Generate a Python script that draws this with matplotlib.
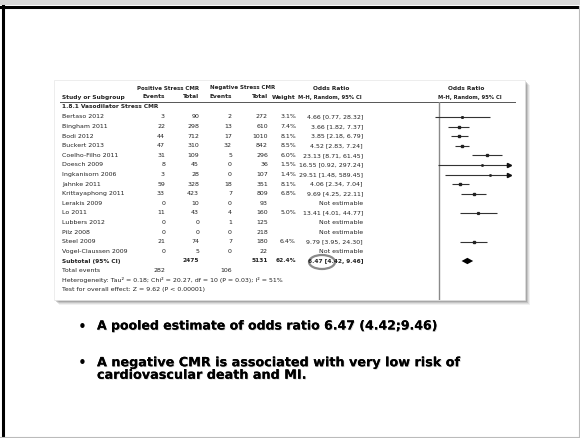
import matplotlib.pyplot as plt
import matplotlib.patheffects as pe
from matplotlib.patches import Rectangle, Ellipse, Polygon
import numpy as np

# Studies in the vasodilator stress CMR subgroup
studies = ['Bertaso 2012', 'Bingham 2011', 'Bodi 2012', 'Buckert 2013',
           'Coelho-Filho 2011', 'Doesch 2009', 'Ingkanisorn 2006', 'Jahnke 2011',
           'Krittayaphong 2011', 'Lerakis 2009', 'Lo 2011', 'Lubbers 2012',
           'Pilz 2008', 'Steel 2009', 'Vogel-Claussen 2009']
pos_events = [3, 22, 44, 47, 31, 8, 3, 59, 33, 0, 11, 0, 0, 21, 0]
pos_total = [90, 298, 712, 310, 109, 45, 28, 328, 423, 10, 43, 0, 0, 74, 5]
neg_events = [2, 13, 17, 32, 5, 0, 0, 18, 7, 0, 4, 1, 0, 7, 0]
neg_total = [272, 610, 1010, 842, 296, 36, 107, 351, 809, 93, 160, 125, 218, 180, 22]
weight = [3.1, 7.4, 8.1, 8.5, 6.0, 1.5, 1.4, 8.1, 6.8, None, 5.0, None, None, 6.4, None]
odds = [4.66, 3.66, 3.85, 4.52, 23.13, 16.55, 29.51, 4.06, 9.69, None, 13.41, None, None, 9.79, None]
ci_lo = [0.77, 1.82, 2.18, 2.83, 8.71, 0.92, 1.48, 2.34, 4.25, None, 4.01, None, None, 3.95, None]
ci_hi = [28.32, 7.37, 6.79, 7.24, 61.45, 297.24, 589.45, 7.04, 22.11, None, 44.77, None, None, 24.30, None]

# pooled result
sub_pos_total = 2475
sub_neg_total = 5131
sub_weight = 62.4
pooled = [6.47, 4.42, 9.46]
total_events = [282, 106]

bullets = ['A pooled estimate of odds ratio 6.47 (4.42;9.46)',
           'A negative CMR is associated with very low risk of\ncardiovascular death and MI.']

W, H = 580, 438
fig = plt.figure(figsize=(W / 100, H / 100), dpi=100)
bg = fig.add_axes([0, 0, 1, 1])
bg.set_xlim(0, W)
bg.set_ylim(H, 0)
bg.axis('off')

# slide frame
bg.add_patch(Rectangle((0, 0), W, 5, color='#d8d8d8', lw=0))
bg.plot([0, W], [6.5, 6.5], color='black', lw=2.2)
bg.plot([2.5, 2.5], [6, H], color='black', lw=2.2)
bg.plot([W - 1.5, W - 1.5], [6, H], color='#bbbbbb', lw=0.8)
bg.plot([0, W], [H - 1.5, H - 1.5], color='#bbbbbb', lw=0.8)

# pasted table panel with a soft shadow
px0, py0, px1, py1 = 54, 80, 525, 300
for k, a in zip([5, 4, 3, 2, 1], [0.08, 0.12, 0.18, 0.25, 0.35]):
    bg.add_patch(Rectangle((px0 + k, py0 + k), px1 - px0, py1 - py0,
                           color='#555555', alpha=a, lw=0))
bg.add_patch(Rectangle((px0, py0), px1 - px0, py1 - py0,
                       facecolor='white', edgecolor='#e6e6e6', lw=0.5))

fs = 4.5
fsh = 4.2
tc = '#222222'
row0, dy = 117, 9.6


def row_y(i):
    return row0 + dy * i


x_name, x_e1, x_t1, x_e2, x_t2, x_w, x_ci = 62, 165, 199, 232, 268, 296, 363

# headers
bg.text(168, 88, 'Positive Stress CMR', fontsize=4.0, fontweight='bold', ha='center', va='center', color=tc)
bg.text(243, 88, 'Negative Stress CMR', fontsize=4.0, fontweight='bold', ha='center', va='center', color=tc)
bg.text(331, 88, 'Odds Ratio', fontsize=fsh, fontweight='bold', ha='center', va='center', color=tc)
bg.text(466, 88, 'Odds Ratio', fontsize=fsh, fontweight='bold', ha='center', va='center', color=tc)
bg.text(x_name, 97, 'Study or Subgroup', fontsize=fsh, fontweight='bold', ha='left', va='center', color=tc)
for x, s in [(x_e1, 'Events'), (x_t1, 'Total'), (x_e2, 'Events'), (x_t2, 'Total'), (x_w, 'Weight')]:
    bg.text(x, 97, s, fontsize=fsh, fontweight='bold', ha='right', va='center', color=tc)
bg.text(x_ci - 1, 97, 'M-H, Random, 95% CI', fontsize=3.8, fontweight='bold', ha='right', va='center', color=tc)
bg.text(470, 97, 'M-H, Random, 95% CI', fontsize=3.8, fontweight='bold', ha='center', va='center', color=tc)
bg.plot([60, 515], [102, 102], color='#555555', lw=0.7)
bg.text(x_name, 107, '1.8.1 Vasodilator Stress CMR', fontsize=fsh, fontweight='bold', ha='left', va='center', color=tc)

# study rows
for i, name in enumerate(studies):
    y = row_y(i)
    bg.text(x_name, y, name, fontsize=fs, ha='left', va='center', color=tc)
    bg.text(x_e1, y, str(pos_events[i]), fontsize=fs, ha='right', va='center', color=tc)
    bg.text(x_t1, y, str(pos_total[i]), fontsize=fs, ha='right', va='center', color=tc)
    bg.text(x_e2, y, str(neg_events[i]), fontsize=fs, ha='right', va='center', color=tc)
    bg.text(x_t2, y, str(neg_total[i]), fontsize=fs, ha='right', va='center', color=tc)
    if odds[i] is None:
        bg.text(x_ci, y, 'Not estimable', fontsize=fs, ha='right', va='center', color=tc)
    else:
        bg.text(x_w, y, f'{weight[i]:.1f}%', fontsize=fs, ha='right', va='center', color=tc)
        bg.text(x_ci, y, f'{odds[i]:.2f} [{ci_lo[i]:.2f}, {ci_hi[i]:.2f}]',
                fontsize=fs, ha='right', va='center', color=tc)

# subtotal and footer
n = len(studies)
ys = row_y(n)
bg.text(x_name, ys, 'Subtotal (95% CI)', fontsize=fsh, fontweight='bold', ha='left', va='center', color=tc)
bg.text(x_t1, ys, str(sub_pos_total), fontsize=fsh, fontweight='bold', ha='right', va='center', color=tc)
bg.text(x_t2, ys, str(sub_neg_total), fontsize=fsh, fontweight='bold', ha='right', va='center', color=tc)
bg.text(x_w, ys, f'{sub_weight:.1f}%', fontsize=fsh, fontweight='bold', ha='right', va='center', color=tc)
bg.text(x_ci, ys, f'{pooled[0]:.2f} [{pooled[1]:.2f}, {pooled[2]:.2f}]',
        fontsize=fsh, fontweight='bold', ha='right', va='center', color=tc)
bg.add_patch(Ellipse((322, ys + 1), 26, 14, fill=False, edgecolor='#8a8a8a', lw=1.6))

yt = row_y(n + 1)
bg.text(x_name, yt, 'Total events', fontsize=fs, ha='left', va='center', color=tc)
bg.text(x_e1, yt, str(total_events[0]), fontsize=fs, ha='right', va='center', color=tc)
bg.text(x_e2, yt, str(total_events[1]), fontsize=fs, ha='right', va='center', color=tc)
bg.text(x_name, row_y(n + 2),
        'Heterogeneity: Tau\u00b2 = 0.18; Chi\u00b2 = 20.27, df = 10 (P = 0.03); I\u00b2 = 51%',
        fontsize=fs, ha='left', va='center', color=tc)
bg.text(x_name, row_y(n + 3), 'Test for overall effect: Z = 9.62 (P < 0.00001)',
        fontsize=fs, ha='left', va='center', color=tc)

# forest plot on a log odds-ratio axis
fx0, fx1 = 369, 509
ax = fig.add_axes([fx0 / W, 1 - py1 / H, (fx1 - fx0) / W, (py1 - 102) / H])
ax.set_xscale('log')
ax.set_xlim(0.01, 100)
ax.set_ylim((py1 - row0) / dy, (102 - row0) / dy)
ax.axis('off')
ax.axvline(1, color='#8a8a8a', lw=1.0)
for i in range(n):
    if odds[i] is None:
        continue
    hi = min(ci_hi[i], 100)
    ax.plot([ci_lo[i], hi], [i, i], color='#333333', lw=0.8, solid_capstyle='butt')
    ax.plot(odds[i], i, marker='s', color='#222222', ms=0.8 + weight[i] * 0.1, lw=0)
    if ci_hi[i] > 100:
        ax.plot(100, i, marker='>', color='#111111', ms=3, clip_on=False)
ax.add_patch(Polygon([(pooled[1], n), (pooled[0], n - 0.33), (pooled[2], n), (pooled[0], n + 0.33)],
                     closed=True, color='black', lw=0))

# bullet points
shadow = [pe.withSimplePatchShadow(offset=(0.6, -0.6), shadow_rgbFace='#aaaaaa', alpha=0.5), pe.Normal()]
bg.text(82, 327, '\u2022', fontsize=11, ha='center', va='center', color='black')
bg.text(97, 326, bullets[0], fontsize=9, fontweight='bold', ha='left', va='center',
        color='black', path_effects=shadow)
bg.text(82, 364, '\u2022', fontsize=11, ha='center', va='center', color='black')
bg.text(97, 369, bullets[1], fontsize=9.2, fontweight='bold', ha='left', va='center',
        color='black', linespacing=0.95, path_effects=shadow)

fig.savefig('out.png', dpi=100)
